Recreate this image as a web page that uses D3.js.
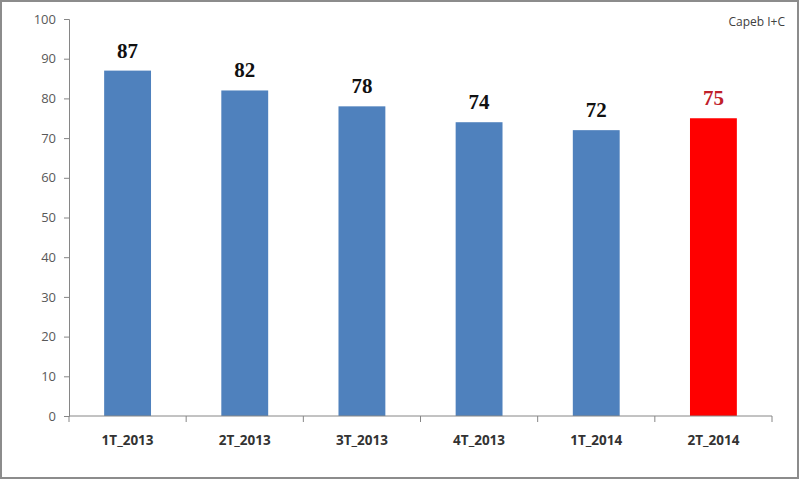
<!DOCTYPE html>
<html><head><meta charset="utf-8">
<script src="https://cdn.jsdelivr.net/npm/d3@7"></script>
<style>body{margin:0;background:#fff;}svg{display:block;}</style>
</head><body>
<svg id="c" width="800" height="480"></svg>
<script>
const categories = ["1T_2013","2T_2013","3T_2013","4T_2013","1T_2014","2T_2014"];
const values = [87, 82, 78, 74, 72, 75];
const highlight = [false,false,false,false,false,true];
const yTicks = [0,10,20,30,40,50,60,70,80,90,100];

const svg = d3.select("#c");
const W = 800, H = 480;
const m = {left:69, right:28, top:19, bottom:64};
svg.append("rect").attr("x",1).attr("y",1).attr("width",W-3).attr("height",H-3)
  .attr("fill","#fff").attr("stroke","#8c8c8c").attr("stroke-width",2);

const x = d3.scaleBand().domain(categories).range([m.left, W-m.right]).paddingInner(0.6).paddingOuter(0.3);
const y = d3.scaleLinear().domain([0,100]).range([H-m.bottom, m.top]);

svg.selectAll("rect.bar").data(values).enter().append("rect")
  .attr("class","bar")
  .attr("x",(d,i)=>x(categories[i]))
  .attr("width",x.bandwidth())
  .attr("y",d=>y(d))
  .attr("height",d=>y(0)-y(d))
  .attr("fill",(d,i)=>highlight[i]?"#ff0000":"#4f81bd");

const ya = svg.append("g").attr("transform",`translate(${m.left},0)`)
  .call(d3.axisLeft(y).tickValues(yTicks).tickSize(5).tickPadding(8));
ya.select(".domain").attr("stroke","#868686");
ya.selectAll(".tick line").attr("stroke","#868686");
ya.selectAll("text").attr("fill","#595959").style("font-family","'Open Sans', 'Liberation Sans', sans-serif").style("font-size","13px");

const xa = svg.append("g").attr("transform",`translate(0,${y(0)})`);
xa.append("line").attr("x1",m.left).attr("x2",W-m.right).attr("stroke","#868686");
const step = (W-m.right-m.left)/categories.length;
d3.range(categories.length+1).forEach(i=>{
  xa.append("line").attr("x1",m.left+i*step).attr("x2",m.left+i*step).attr("y1",0).attr("y2",6).attr("stroke","#868686");
});
xa.selectAll("text.cat").data(categories).enter().append("text")
  .attr("class","cat")
  .attr("x",d=>x(d)+x.bandwidth()/2).attr("y",29)
  .attr("text-anchor","middle")
  .attr("fill","#333")
  .style("font-family","'Open Sans', 'Liberation Sans', sans-serif").style("font-size","13.5px").style("font-weight","bold")
  .text(d=>d);

svg.selectAll("text.val").data(values).enter().append("text")
  .attr("class","val")
  .attr("x",(d,i)=>x(categories[i])+x.bandwidth()/2)
  .attr("y",d=>y(d)-13)
  .attr("text-anchor","middle")
  .attr("fill",(d,i)=>highlight[i]?"#c0202a":"#111")
  .style("font-family","'Liberation Serif', 'DejaVu Serif', serif").style("font-size","21px").style("font-weight","bold")
  .text(d=>d);

svg.append("text").attr("x",785).attr("y",26).attr("text-anchor","end")
  .attr("fill","#404040")
  .style("font-family","'Open Sans', 'Liberation Sans', sans-serif").style("font-size","12px")
  .text("Capeb I+C");
</script>
</body></html>
